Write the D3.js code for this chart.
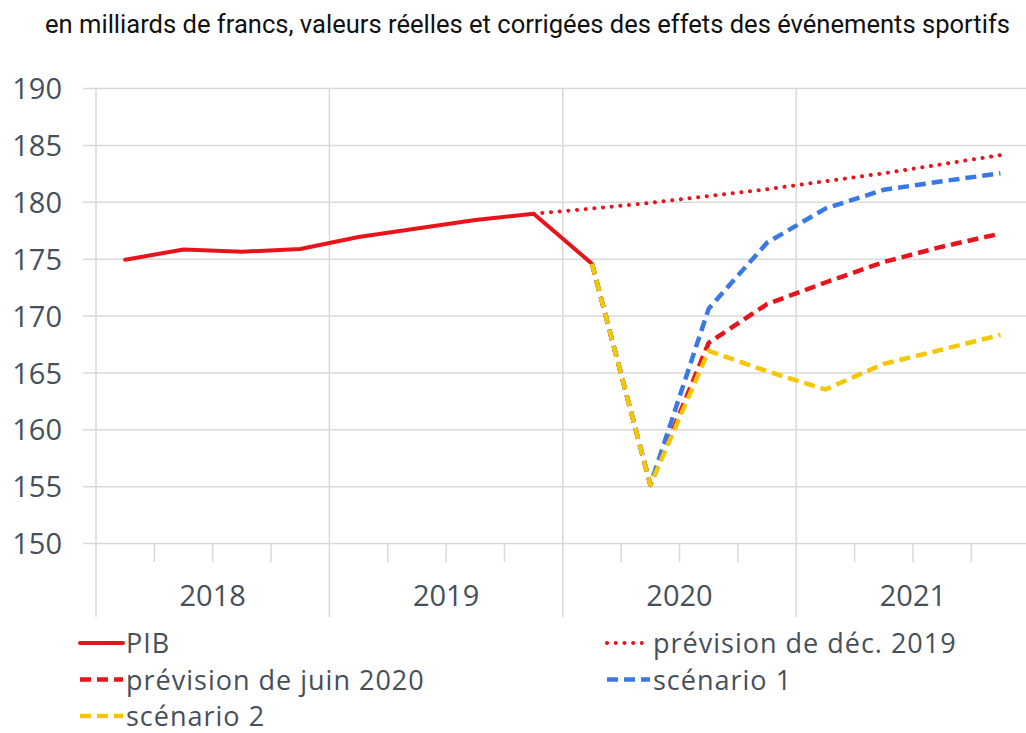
<!DOCTYPE html>
<html>
<head>
<meta charset="utf-8">
<script src="https://cdn.jsdelivr.net/npm/d3@7"></script>
<style>
  body { margin: 0; background: #fff; }
  svg { display: block; }
</style>
</head>
<body>
<script>
// categories: quarters 2018 T1 .. 2021 T4
var years = ['2018', '2019', '2020', '2021'];
var quarters = [];
years.forEach(function(yr) { for (var q = 1; q <= 4; q++) quarters.push(yr + ' T' + q); });
var yTicks = [150, 155, 160, 165, 170, 175, 180, 185, 190];

// series values (billions CHF)
var pib      = [174.9, 175.8, 175.6, 175.85, 176.9, 177.65, 178.4, 178.95, 174.55]; // from 2018 T1
var dec2019  = [178.95, 179.4, 179.9, 180.5, 181.1, 181.8, 182.5, 183.3, 184.1];   // from 2019 T4
var juin2020 = [174.55, 155.1, 167.6, 171.0, 172.9, 174.7, 176.05, 177.2];         // from 2020 T1
var scen1    = [174.55, 155.1, 170.6, 176.4, 179.4, 181.05, 181.8, 182.5];         // from 2020 T1
var scen2    = [174.55, 155.1, 166.9, 165.1, 163.5, 165.75, 167.0, 168.3];         // from 2020 T1

var W = 1026, H = 733;
var RED = '#e8141c', BLUE = '#3a78e6', YEL = '#f6c700';

var series = [
  {name: 'PIB', vals: pib, start: 0, color: RED, width: 4, dash: null, cap: 'round'},
  {name: 'prévision de déc. 2019', vals: dec2019, start: 7, color: RED, width: 4, dash: '0.1,8.6', cap: 'round'},
  {name: 'prévision de juin 2020', vals: juin2020, start: 8, color: RED, width: 4.5, dash: '11,6', cap: 'butt'},
  {name: 'scénario 1', vals: scen1, start: 8, color: BLUE, width: 4.5, dash: '11,6', cap: 'butt'},
  {name: 'scénario 2', vals: scen2, start: 8, color: YEL, width: 4.5, dash: '11,6', cap: 'butt'}
];

var svg = d3.select('body').append('svg').attr('width', W).attr('height', H);

var x = d3.scaleBand().domain(quarters).range([96, 1029.6]);
var y = d3.scaleLinear().domain([150, 190]).range([543, 88]);
var xc = function(q) { return x(q) + x.bandwidth() / 2; };

// title
svg.append('text')
  .attr('x', 45).attr('y', 33)
  .attr('textLength', 965).attr('lengthAdjust', 'spacingAndGlyphs')
  .style('font-family', 'Roboto, sans-serif').style('font-size', '25.5px').style('fill', '#111')
  .text('en milliards de francs, valeurs réelles et corrigées des effets des événements sportifs');

// y axis with horizontal gridlines
var yAxis = svg.append('g').attr('transform', 'translate(83,0)')
  .call(d3.axisLeft(y).tickValues(yTicks).tickSize(-(1030 - 83)).tickPadding(21));
yAxis.select('.domain').remove();
yAxis.selectAll('.tick line').attr('stroke', '#d9d9d9').attr('stroke-width', 1.5);
yAxis.selectAll('.tick text')
  .attr('dy', '0.37em')
  .style('font-family', '"Open Sans", sans-serif').style('font-size', '29px').style('fill', '#46505a');

// vertical year separators and quarter ticks
var yearStarts = years.map(function(yr) { return x(yr + ' T1'); });
svg.append('g').selectAll('line').data(yearStarts).enter().append('line')
  .attr('x1', function(d) { return d; }).attr('x2', function(d) { return d; })
  .attr('y1', y(190)).attr('y2', 617)
  .attr('stroke', '#d9d9d9').attr('stroke-width', 1.5);

var qTicks = quarters.filter(function(q) { return q.slice(-1) !== '1'; });
svg.append('g').selectAll('line').data(qTicks).enter().append('line')
  .attr('x1', function(d) { return x(d); }).attr('x2', function(d) { return x(d); })
  .attr('y1', y(150)).attr('y2', 562)
  .attr('stroke', '#d9d9d9').attr('stroke-width', 1.5);

// year labels
svg.append('g').selectAll('text').data(years).enter().append('text')
  .attr('x', function(d) { return x(d + ' T1') + x.bandwidth() * 2; })
  .attr('y', 606)
  .attr('text-anchor', 'middle')
  .style('font-family', '"Open Sans", sans-serif').style('font-size', '29px').style('fill', '#46505a')
  .text(function(d) { return d; });

// lines
var line = d3.line()
  .x(function(d) { return xc(d.q); })
  .y(function(d) { return y(d.v); });

series.forEach(function(s) {
  var pts = s.vals.map(function(v, i) { return {q: quarters[s.start + i], v: v}; });
  svg.append('path')
    .datum(pts)
    .attr('d', line)
    .attr('fill', 'none')
    .attr('stroke', s.color)
    .attr('stroke-width', s.width)
    .attr('stroke-linecap', s.cap)
    .attr('stroke-linejoin', 'round')
    .attr('stroke-dasharray', s.dash);
});

// legend
var legendPos = [
  {x: 80, y: 653}, {x: 607, y: 653},
  {x: 80, y: 689.5}, {x: 607, y: 689.5},
  {x: 80, y: 726}
];
var lg = svg.append('g').selectAll('g').data(series).enter().append('g')
  .attr('transform', function(d, i) { return 'translate(' + legendPos[i].x + ',' + legendPos[i].y + ')'; });
lg.append('line')
  .attr('x1', 0).attr('x2', 43).attr('y1', -10).attr('y2', -10)
  .attr('stroke', function(d) { return d.color; })
  .attr('stroke-width', function(d) { return d.width; })
  .attr('stroke-linecap', function(d) { return d.cap; })
  .attr('stroke-dasharray', function(d) { return d.dash; });
lg.append('text')
  .attr('x', 46).attr('y', 0)
  .style('font-family', '"Open Sans", sans-serif').style('font-size', '27px')
  .style('letter-spacing', '1px').style('fill', '#46505a')
  .text(function(d) { return d.name; });
</script>
</body>
</html>
